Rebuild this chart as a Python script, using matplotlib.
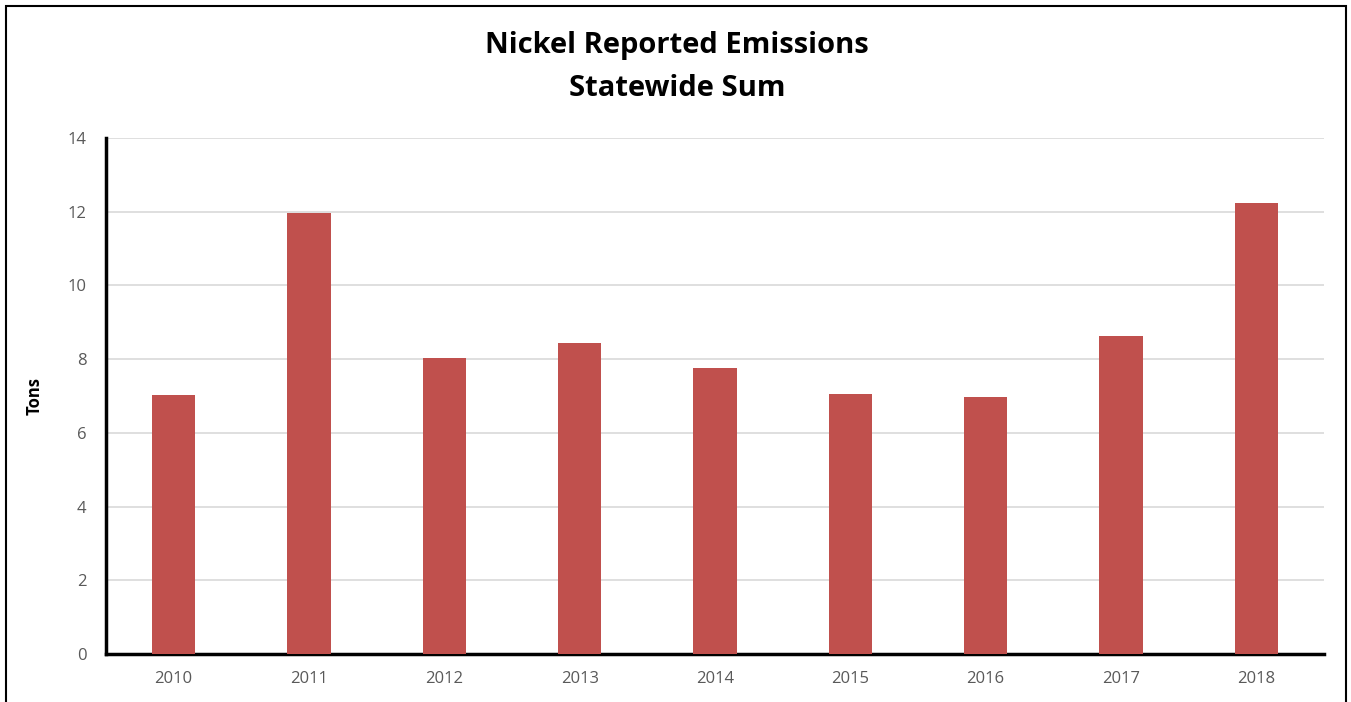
import matplotlib.pyplot as plt
import numpy as np
from matplotlib.patches import Rectangle

years = ["2010", "2011", "2012", "2013", "2014", "2015", "2016", "2017", "2018"]
tons = [7.03, 11.97, 8.03, 8.44, 7.76, 7.06, 6.98, 8.63, 12.25]

W, H = 1351, 702
plt.rcParams['font.family'] = ['Open Sans', 'DejaVu Sans']

fig = plt.figure(figsize=(W/100, H/100), dpi=100)
ax = fig.add_axes([106/W, 1-654/H, (1324-106)/W, (654-138)/H])

x = np.arange(len(years))
ax.bar(x, tons, width=0.32, color='#C0504D', zorder=3)
ax.set_xlim(-0.5, len(years)-0.5)
ax.set_ylim(0, 14)
ax.set_yticks(range(0, 15, 2))
ax.set_xticks(x)
ax.set_xticklabels(years)
ax.grid(axis='y', color='#d9d9d9', lw=1.2, zorder=0)
ax.tick_params(length=0, labelsize=12, colors='#595959', pad=12)
ax.tick_params(axis='y', pad=14)
for s in ['top', 'right']:
    ax.spines[s].set_visible(False)
for s in ['left', 'bottom']:
    ax.spines[s].set_linewidth(2.5)
    ax.spines[s].set_color('black')
fig.text(35/W, 1-396/H, "Tons", rotation=90, ha='center', va='center',
         fontsize=12, fontweight='bold')

fig.text(677/W, 1-45/H, "Nickel Reported Emissions", ha='center', va='center',
         fontsize=21, fontweight='bold')
fig.text(677/W, 1-88/H, "Statewide Sum", ha='center', va='center',
         fontsize=21, fontweight='bold')

# outer frame
fig.patches.append(Rectangle((6/W, -0.05), (1346-6)/W, 1.05-6/H, transform=fig.transFigure,
                             fill=False, ec='black', lw=1.5, clip_on=False))

fig.savefig("out.png", dpi=100)
